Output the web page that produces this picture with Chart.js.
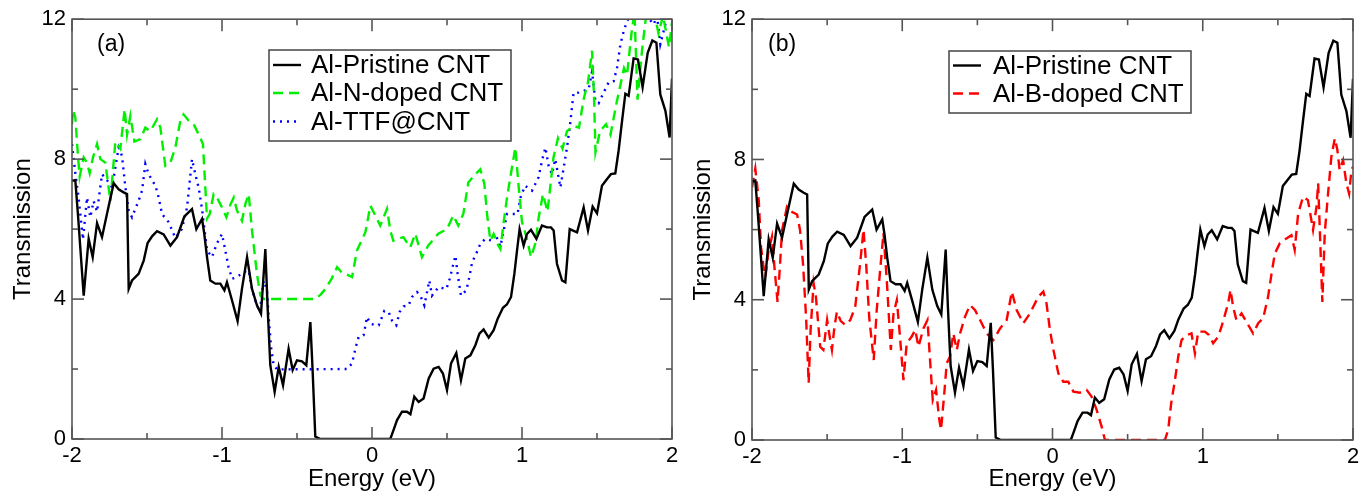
<!DOCTYPE html>
<html><head><meta charset="utf-8">
<script src="https://cdn.jsdelivr.net/npm/chart.js@4.4.1/dist/chart.umd.min.js"></script>
<style>
html,body{margin:0;padding:0;background:#fff;width:1371px;height:496px;overflow:hidden}
#wa{position:absolute;left:0;top:0;width:686px;height:496px}
#wb{position:absolute;left:686px;top:0;width:685px;height:496px}
</style></head><body>
<div id="wa"><canvas id="ca"></canvas></div>
<div id="wb"><canvas id="cb"></canvas></div>
<script>
// ---------- data ----------
const pristineE = [-2.0,-1.978,-1.96,-1.922,-1.889,-1.862,-1.833,-1.8,-1.767,-1.722,-1.689,-1.656,-1.633,-1.622,-1.6,-1.556,-1.522,-1.496,-1.465,-1.433,-1.389,-1.344,-1.3,-1.251,-1.2,-1.171,-1.133,-1.118,-1.1,-1.078,-1.044,-1.011,-0.984,-0.967,-0.933,-0.896,-0.867,-0.833,-0.8,-0.767,-0.74,-0.711,-0.696,-0.678,-0.649,-0.622,-0.593,-0.556,-0.529,-0.5,-0.467,-0.438,-0.411,-0.396,-0.378,-0.344,0.122,0.144,0.167,0.2,0.233,0.256,0.282,0.311,0.344,0.378,0.411,0.444,0.473,0.5,0.527,0.562,0.593,0.622,0.656,0.689,0.716,0.744,0.778,0.811,0.838,0.873,0.9,0.927,0.949,0.967,0.984,1.011,1.033,1.06,1.096,1.133,1.167,1.193,1.211,1.233,1.267,1.289,1.318,1.367,1.411,1.44,1.471,1.5,1.533,1.567,1.593,1.622,1.644,1.667,1.689,1.711,1.744,1.773,1.804,1.838,1.869,1.896,1.922,1.956,1.984,2.0];
const pristineT = [7.38,7.4,6.4,4.1,5.72,5.2,6.17,5.77,6.43,7.31,7.14,7.05,7.0,4.29,4.53,4.72,5.1,5.6,5.8,5.94,5.85,5.53,5.77,6.36,6.57,6.0,6.29,5.86,5.2,4.53,4.44,4.44,4.25,4.48,3.96,3.37,4.29,5.2,4.29,3.82,3.58,5.43,3.77,2.11,1.35,2.06,1.54,2.58,1.97,2.25,2.22,2.11,3.34,1.97,0.07,0,0,0.26,0.54,0.78,0.78,0.71,1.21,1.06,1.16,1.73,2.01,2.06,1.87,1.4,2.16,2.46,1.68,2.3,2.39,2.68,3.01,3.13,2.9,3.11,3.44,3.75,3.85,4.06,4.72,5.39,6.0,5.53,5.86,5.98,5.72,6.1,6.05,6.05,5.96,5.01,4.53,4.48,6.0,5.91,6.62,5.96,6.64,6.45,7.24,7.43,7.57,7.59,8.24,9.09,9.87,9.81,10.88,10.85,10.06,11.04,11.39,11.33,9.85,9.38,8.62,10.3];

const nDopedE = [-2.0,-1.993,-1.978,-1.962,-1.949,-1.922,-1.9,-1.882,-1.86,-1.833,-1.811,-1.778,-1.744,-1.711,-1.678,-1.649,-1.633,-1.611,-1.584,-1.544,-1.511,-1.478,-1.433,-1.411,-1.378,-1.344,-1.311,-1.278,-1.256,-1.222,-1.189,-1.156,-1.127,-1.1,-1.082,-1.056,-1.033,-1.0,-0.971,-0.944,-0.922,-0.9,-0.867,-0.844,-0.822,-0.8,-0.767,-0.744,-0.722,-0.378,-0.344,-0.311,-0.267,-0.233,-0.2,-0.167,-0.133,-0.1,-0.044,-0.011,0.022,0.055,0.1,0.122,0.142,0.209,0.255,0.289,0.333,0.375,0.442,0.5,0.542,0.575,0.609,0.642,0.689,0.722,0.749,0.767,0.789,0.811,0.833,0.856,0.878,0.9,0.933,0.956,0.978,1.0,1.03,1.06,1.09,1.11,1.14,1.17,1.21,1.24,1.27,1.3,1.344,1.38,1.41,1.44,1.467,1.48,1.49,1.52,1.56,1.59,1.63,1.68,1.7,1.73,1.75,1.77,1.8,1.83,1.88,1.91,1.94,1.98,2.0];
const nDopedT = [9.0,9.4,9.2,8.2,7.5,8.05,7.9,7.6,8.05,8.43,8.0,7.9,6.8,8.5,8.3,9.43,8.7,9.24,8.5,8.57,8.9,8.8,9.14,8.9,7.81,7.9,8.33,9.09,9.28,9.1,9.0,8.71,8.43,6.3,6.43,7.0,6.9,6.62,6.34,6.7,6.9,6.53,6.24,6.72,7.0,5.96,4.72,4.1,4.0,4.0,4.12,4.29,4.6,4.91,4.75,4.7,4.63,5.39,5.91,6.67,6.39,6.1,6.58,5.96,5.67,5.77,5.48,5.87,5.2,5.53,5.87,6.0,6.39,6.1,6.44,7.33,7.57,7.71,7.29,6.43,5.67,5.86,5.6,5.43,6.2,6.9,7.76,8.33,7.2,6.2,5.77,5.2,5.6,6.3,7.0,6.5,8.05,8.6,8.3,8.8,8.95,8.9,9.7,10.2,11.1,9.8,8.2,8.8,9.0,8.7,9.6,10.6,10.4,11.6,12.2,9.7,11.1,12.2,12.2,11.6,12.1,11.2,11.9];

const ttfE = [-2.0,-1.978,-1.956,-1.927,-1.9,-1.878,-1.856,-1.833,-1.8,-1.767,-1.733,-1.689,-1.667,-1.644,-1.622,-1.6,-1.556,-1.533,-1.511,-1.489,-1.444,-1.422,-1.4,-1.356,-1.311,-1.267,-1.233,-1.2,-1.178,-1.156,-1.133,-1.1,-1.067,-1.033,-1.0,-0.978,-0.956,-0.933,-0.9,-0.856,-0.822,-0.8,-0.778,-0.749,-0.722,-0.7,-0.689,-0.673,-0.656,-0.633,-0.167,-0.133,-0.111,-0.089,-0.056,-0.033,-0.011,0.022,0.045,0.067,0.082,0.111,0.133,0.162,0.184,0.211,0.244,0.267,0.3,0.322,0.349,0.367,0.382,0.4,0.444,0.496,0.518,0.556,0.571,0.593,0.629,0.651,0.667,0.696,0.722,0.756,0.8,0.822,0.856,0.9,0.94,0.97,0.99,1.02,1.067,1.11,1.133,1.156,1.178,1.2,1.222,1.256,1.278,1.3,1.318,1.344,1.378,1.411,1.444,1.467,1.489,1.511,1.544,1.578,1.611,1.633,1.656,1.678,1.7,1.72,1.83,1.878,1.9,1.922,1.944,1.967,2.0];
const ttfT = [8.43,7.6,6.9,5.7,6.9,6.34,6.8,6.5,7.57,7.4,7.19,8.33,8.1,7.19,6.53,6.34,6.81,7.1,7.86,7.57,7.24,6.9,6.43,6.2,5.75,6.0,6.62,8.0,7.57,7.19,6.57,5.4,5.2,5.6,5.86,5.39,4.91,4.58,4.63,4.77,4.82,4.29,3.96,3.63,4.53,4.25,3.49,2.63,2.11,1.99,2.0,2.16,2.58,2.92,2.97,3.49,3.3,3.25,3.25,3.49,3.66,3.63,3.39,3.25,3.63,3.79,3.82,4.06,4.2,4.1,3.82,4.2,4.53,4.1,4.34,4.29,4.58,5.24,4.72,4.1,4.25,4.67,5.05,5.31,5.58,5.72,5.67,5.86,5.5,6.43,6.43,6.43,6.9,7.24,7.1,7.48,7.95,8.33,7.8,7.57,8.0,7.19,7.76,8.33,8.9,9.9,9.9,9.95,10.0,10.5,9.66,9.6,9.9,10.2,10.23,10.6,11.28,11.66,11.94,12.1,12.1,11.85,12.1,11.28,11.66,12.05,12.05];

const bDopedE = [-2.0,-1.978,-1.955,-1.94,-1.925,-1.91,-1.89,-1.867,-1.85,-1.83,-1.815,-1.8,-1.767,-1.733,-1.7,-1.68,-1.66,-1.64,-1.623,-1.61,-1.59,-1.575,-1.546,-1.525,-1.5,-1.485,-1.468,-1.452,-1.435,-1.41,-1.38,-1.346,-1.313,-1.28,-1.258,-1.24,-1.22,-1.19,-1.17,-1.148,-1.125,-1.103,-1.076,-1.058,-1.036,-1.02,-0.992,-0.97,-0.937,-0.914,-0.892,-0.859,-0.832,-0.815,-0.797,-0.775,-0.753,-0.742,-0.722,-0.704,-0.682,-0.66,-0.637,-0.615,-0.582,-0.549,-0.515,-0.482,-0.438,-0.393,-0.349,-0.305,-0.271,-0.238,-0.194,-0.15,-0.094,-0.061,-0.04,-0.017,0.006,0.039,0.072,0.105,0.139,0.183,0.227,0.26,0.294,0.327,0.349,0.748,0.77,0.79,0.815,0.837,0.859,0.892,0.925,0.948,0.97,1.014,1.04,1.069,1.103,1.125,1.147,1.169,1.185,1.202,1.224,1.258,1.291,1.335,1.369,1.402,1.435,1.458,1.48,1.513,1.557,1.59,1.612,1.635,1.668,1.7,1.723,1.734,1.757,1.768,1.78,1.796,1.812,1.834,1.856,1.879,1.896,1.911,1.934,1.956,1.974,1.99,2.0];
const bDopedT = [7.2,7.74,6.84,5.5,5.0,4.66,5.4,5.8,4.9,3.94,4.9,5.98,6.65,6.5,6.43,5.98,5.0,3.5,1.62,3.14,4.47,4.1,2.66,2.57,3.42,3.0,2.57,3.2,3.66,3.4,3.28,3.42,3.8,5.04,6.0,5.0,3.5,2.28,3.7,4.8,5.9,4.56,2.57,3.61,3.99,3.2,1.71,2.76,2.95,3.14,2.66,3.18,3.42,2.28,1.14,1.43,0.57,0.29,1.24,2.19,2.38,3.04,2.57,3.04,3.52,3.85,3.7,3.42,3.04,2.85,3.18,3.42,4.23,3.7,3.33,3.61,4.09,4.23,3.9,3.14,2.57,1.9,1.66,1.66,1.38,1.35,1.43,1.24,0.86,0.38,0,0,0.29,1.05,1.71,2.38,2.85,2.99,3.04,2.47,3.09,3.09,3.0,2.76,2.95,3.23,3.56,3.9,4.28,3.8,3.42,3.61,3.37,3.04,3.33,3.47,4.09,4.75,5.32,5.61,5.75,5.84,5.42,6.46,6.94,6.84,6.27,5.99,6.65,7.32,5.9,3.94,5.9,7.03,8.08,8.6,8.27,7.7,7.98,7.32,7.03,7.7,7.79];

const xMajorTicks = [-2,-1,0,1,2];
const xMinorTicks = [-1.5,-0.5,0.5,1.5];
const yMajorTicks = [0,4,8,12];
const yMinorTicks = [2,6,10];

const labelsA = ['Al-Pristine CNT','Al-N-doped CNT','Al-TTF@CNT'];
const labelsB = ['Al-Pristine CNT','Al-B-doped CNT'];

// ---------- helpers ----------
const FONT = "'Liberation Sans', Arial, Helvetica, sans-serif";
const pts = (xs, ys) => xs.map((v, i) => ({x: v, y: ys[i]}));

const decorPlugin = {
  id: 'decor',
  afterDatasetsDraw(chart, args, o) {
    const {ctx, chartArea: a, scales: {x, y}} = chart;
    ctx.save();
    // frame
    ctx.strokeStyle = '#555';
    ctx.lineWidth = 1.6;
    ctx.lineCap = 'butt';
    ctx.setLineDash([]);
    ctx.strokeRect(a.left, a.top, a.right - a.left, a.bottom - a.top);
    const seg = (x1, y1, x2, y2) => { ctx.beginPath(); ctx.moveTo(x1, y1); ctx.lineTo(x2, y2); ctx.stroke(); };
    const tick = (vals, len) => {
      vals.forEach(v => { const p = x.getPixelForValue(v); seg(p, a.bottom, p, a.bottom - len); seg(p, a.top, p, a.top + len); });
    };
    const ticky = (vals, len) => {
      vals.forEach(v => { const p = y.getPixelForValue(v); seg(a.left, p, a.left + len, p); seg(a.right, p, a.right - len, p); });
    };
    tick(xMajorTicks, 12); tick(xMinorTicks, 6);
    ticky(yMajorTicks, 12); ticky(yMinorTicks, 6);
    // panel label
    ctx.fillStyle = '#000';
    ctx.font = '23px ' + FONT;
    ctx.textBaseline = 'middle';
    ctx.textAlign = 'left';
    ctx.fillText(o.panel, o.panelX, o.panelY);
    // legend
    const L = o.legend;
    ctx.fillStyle = '#fff';
    ctx.fillRect(L.x, L.y, L.w, L.h);
    ctx.strokeStyle = '#444';
    ctx.lineWidth = 1.5;
    ctx.strokeRect(L.x, L.y, L.w, L.h);
    ctx.font = '26px ' + FONT;
    chart.data.datasets.forEach((ds, i) => {
      const yy = L.rows[i];
      ctx.strokeStyle = ds.borderColor;
      ctx.lineWidth = ds.borderWidth;
      ctx.setLineDash(ds.borderDash || []);
      seg(L.lineX1, yy, L.lineX2, yy);
      ctx.setLineDash([]);
      ctx.fillStyle = '#000';
      ctx.fillText(ds.label, L.textX, yy + 1);
    });
    ctx.restore();
  }
};

function makeChart(id, datasets, g, decor) {
  return new Chart(document.getElementById(id), {
    type: 'line',
    data: {datasets},
    options: {
      responsive: true, maintainAspectRatio: false, animation: false,
      layout: {padding: {left: 0, right: g.padR, top: g.padT, bottom: 0}},
      plugins: {legend: {display: false}, tooltip: {enabled: false}, decor},
      elements: {point: {radius: 0}, line: {tension: 0}},
      scales: {
        x: {
          type: 'linear', min: -2, max: 2,
          afterBuildTicks: s => { s.ticks = xMajorTicks.map(v => ({value: v})); },
          afterFit: s => { s.height = g.xH; },
          grid: {display: false, drawTicks: false},
          border: {display: false},
          ticks: {color: '#000', font: {family: FONT, size: 22}, padding: 4, maxRotation: 0,
                  callback: v => String(v)},
          title: {display: true, text: 'Energy (eV)', color: '#000', font: {family: FONT, size: 24}, padding: {top: 0, bottom: 2}}
        },
        y: {
          min: 0, max: 12,
          afterBuildTicks: s => { s.ticks = yMajorTicks.map(v => ({value: v})); },
          afterFit: s => { s.width = g.yW; },
          grid: {display: false, drawTicks: false},
          border: {display: false},
          ticks: {color: '#000', font: {family: FONT, size: 22}, padding: 6, callback: v => String(v)},
          title: {display: true, text: 'Transmission', color: '#000', font: {family: FONT, size: 24}, padding: {top: g.yTitlePad, bottom: 0}}
        }
      }
    },
    plugins: [decorPlugin]
  });
}

const GREEN = '#00f000', BLUE = '#0000ff', RED = '#ff0000';

makeChart('ca', [
  {label: labelsA[0], data: pts(pristineE, pristineT), borderColor: '#000', borderWidth: 2.4},
  {label: labelsA[1], data: pts(nDopedE, nDopedT), borderColor: GREEN, borderWidth: 2.4, borderDash: [10, 6]},
  {label: labelsA[2], data: pts(ttfE, ttfT), borderColor: BLUE, borderWidth: 2.4, borderDash: [2, 5]}
], {padR: 14, padT: 18, xH: 57, yW: 72, yTitlePad: 9},
{panel: '(a)', panelX: 97, panelY: 45,
 legend: {x: 269, y: 50, w: 242, h: 91, rows: [65, 93, 121.5], lineX1: 273, lineX2: 301, textX: 311}});

makeChart('cb', [
  {label: labelsB[0], data: pts(pristineE, pristineT), borderColor: '#000', borderWidth: 2.4},
  {label: labelsB[1], data: pts(bDopedE, bDopedT), borderColor: RED, borderWidth: 2.4, borderDash: [10, 6]}
], {padR: 18, padT: 19, xH: 56, yW: 66, yTitlePad: 3},
{panel: '(b)', panelX: 82, panelY: 45,
 legend: {x: 263, y: 51, w: 242, h: 62, rows: [65.5, 93.5], lineX1: 267, lineX2: 295, textX: 307}});
</script></body></html>
